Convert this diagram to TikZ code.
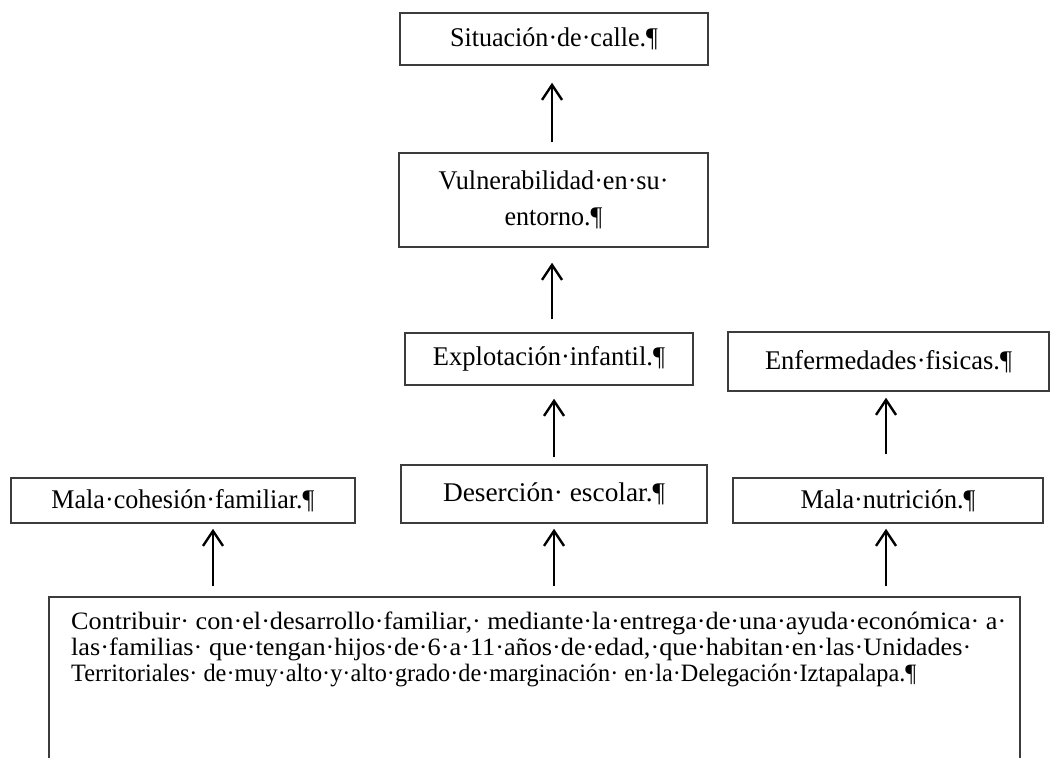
\documentclass[tikz,border=0pt]{standalone}
\usepackage{fontspec}
\usepackage{graphicx}
\setmainfont{Liberation Serif}
\usetikzlibrary{arrows.meta}
\definecolor{boxgray}{HTML}{3C3C3C}
\newcommand{\fitw}[2]{\resizebox{#1}{\height}{#2}}
\begin{document}
\begin{tikzpicture}[x=1pt,y=-1pt,
  box/.style={draw=boxgray, line width=1.5pt, inner sep=0pt, align=center,
    font=\fontsize{27}{36}\selectfont},
  arr/.style={-{Straight Barb[length=15pt,width=20pt,line width=2.4pt]}, line width=2.4pt, black},
  bodytext/.style={inner sep=0pt, anchor=north west, align=left, font=\fontsize{25}{26}\selectfont}]
\useasboundingbox (0,0) rectangle (1051,757);
\clip (0,0) rectangle (1051,757);

\node[box, minimum width=308pt, minimum height=52pt] (sit) at (554,39)
  {\fitw{208pt}{Situación·de·calle.¶}};
\node[box, minimum width=309pt, minimum height=94pt] (vul) at (553.5,200)
  {\fitw{230pt}{Vulnerabilidad·en·su·}\\\fitw{98pt}{entorno.¶}};
\node[box, minimum width=288pt, minimum height=52pt] (exp) at (549,359)
  {\fitw{232pt}{Explotación·infantil.¶}};
\node[box, minimum width=321pt, minimum height=59pt] (enf) at (888.5,361.5)
  {\fitw{247pt}{Enfermedades·fisicas.¶}};
\node[box, minimum width=344pt, minimum height=45pt] (coh) at (183,500.5)
  {\fitw{263pt}{Mala·cohesión·familiar.¶}};
\node[box, minimum width=306pt, minimum height=58pt] (des) at (554,494)
  {\fitw{222pt}{Deserción· escolar.¶}};
\node[box, minimum width=310pt, minimum height=45pt] (nut) at (888,500.5)
  {\fitw{175pt}{Mala·nutrición.¶}};
\node[box, minimum width=971pt, minimum height=203pt] (bot) at (534.5,698.5) {};
\node[bodytext] (bottxt) at (71,612)
  {\fitw{935pt}{Contribuir· con·el·desarrollo·familiar,· mediante·la·entrega·de·una·ayuda·económica· a·}\\
   \fitw{900pt}{las·familias· que·tengan·hijos·de·6·a·11·años·de·edad,·que·habitan·en·las·Unidades·}\\
   \fitw{845pt}{Territoriales· de·muy·alto·y·alto·grado·de·marginación· en·la·Delegación·Iztapalapa.¶}};

\coordinate (c1) at (213,0);
\coordinate (c2) at (554,0);
\coordinate (c3) at (886,0);
\coordinate (c4) at (552,0);

\draw[arr, shorten <=10pt, shorten >=5pt] (bot.north -| c1) -- (coh.south -| c1);
\draw[arr, shorten <=10pt, shorten >=5pt] (bot.north -| c2) -- (des.south -| c2);
\draw[arr, shorten <=10pt, shorten >=5pt] (bot.north -| c3) -- (nut.south -| c3);
\draw[arr, shorten <=7pt, shorten >=13pt] (des.north -| c2) -- (exp.south -| c2);
\draw[arr, shorten <=23pt, shorten >=6pt] (nut.north -| c3) -- (enf.south -| c3);
\draw[arr, shorten <=13pt, shorten >=15pt] (exp.north -| c4) -- (vul.south -| c4);
\draw[arr, shorten <=10pt, shorten >=17pt] (vul.north -| c4) -- (sit.south -| c4);
\end{tikzpicture}
\end{document}
